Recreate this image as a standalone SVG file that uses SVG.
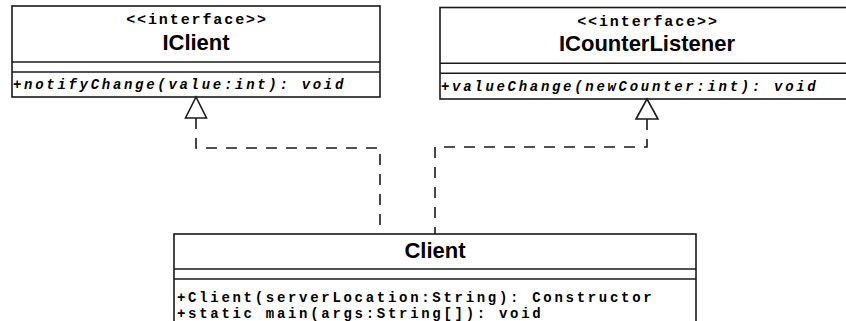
<svg xmlns="http://www.w3.org/2000/svg" width="846" height="321" viewBox="0 0 846 321">
  <style>
    .box { fill: #ffffff; stroke: #1a1a1a; stroke-width: 1.6; }
    .sep { stroke: #1a1a1a; stroke-width: 1.6; fill: none; }
    .stereo { font-family: "Liberation Mono", "Courier New", monospace; font-weight: bold; font-size: 15px; letter-spacing: 1.9px; fill: #000; text-anchor: middle; }
    .title { font-family: "Liberation Sans", Arial, Helvetica, sans-serif; font-weight: bold; font-size: 22px; fill: #000; text-anchor: middle; }
    .op { font-family: "Liberation Mono", "Courier New", monospace; font-weight: bold; font-size: 14px; letter-spacing: 2.7px; fill: #000; }
    .abstract { font-style: italic; }
    .realize { fill: none; stroke: #1a1a1a; stroke-width: 1.6; stroke-dasharray: 11 9; }
    .head { fill: #ffffff; stroke: #1a1a1a; stroke-width: 1.6; stroke-linejoin: miter; }
  </style>

  <!-- Interface IClient -->
  <g id="IClient">
    <rect class="box" x="12" y="6" width="368" height="91"/>
    <line class="sep" x1="12" y1="62" x2="380" y2="62"/>
    <line class="sep" x1="12" y1="72" x2="380" y2="72"/>
    <text class="stereo" x="197" y="24">&lt;&lt;interface&gt;&gt;</text>
    <text class="title" x="196" y="50">IClient</text>
    <text class="op abstract" x="13" y="89">+notifyChange(value:int): void</text>
  </g>

  <!-- Interface ICounterListener (extends past the right edge) -->
  <g id="ICounterListener">
    <rect class="box" x="440" y="7.5" width="414" height="91.5"/>
    <line class="sep" x1="440" y1="63.3" x2="854" y2="63.3"/>
    <line class="sep" x1="440" y1="73.3" x2="854" y2="73.3"/>
    <text class="stereo" x="648" y="25.5">&lt;&lt;interface&gt;&gt;</text>
    <text class="title" x="647" y="50.5">ICounterListener</text>
    <text class="op abstract" x="441" y="90.5">+valueChange(newCounter:int): void</text>
  </g>

  <!-- Class Client (lower part runs off the bottom edge) -->
  <g id="Client">
    <rect class="box" x="174" y="234" width="522" height="100"/>
    <line class="sep" x1="174" y1="269" x2="696" y2="269"/>
    <line class="sep" x1="174" y1="279" x2="696" y2="279"/>
    <text class="title" x="435" y="258">Client</text>
    <text class="op" x="177" y="301.5">+Client(serverLocation:String): Constructor</text>
    <text class="op" x="177" y="317.5">+static main(args:String[]): void</text>
  </g>

  <!-- Realization connectors -->
  <g id="connectors">
    <path class="realize" d="M196,118 V148 H380 V234"/>
    <polygon class="head" points="196,97 185.5,118 206.5,118"/>
    <path class="realize" d="M647,119 V147 H435 V234"/>
    <polygon class="head" points="647,99 636,119 658,119"/>
  </g>
</svg>
